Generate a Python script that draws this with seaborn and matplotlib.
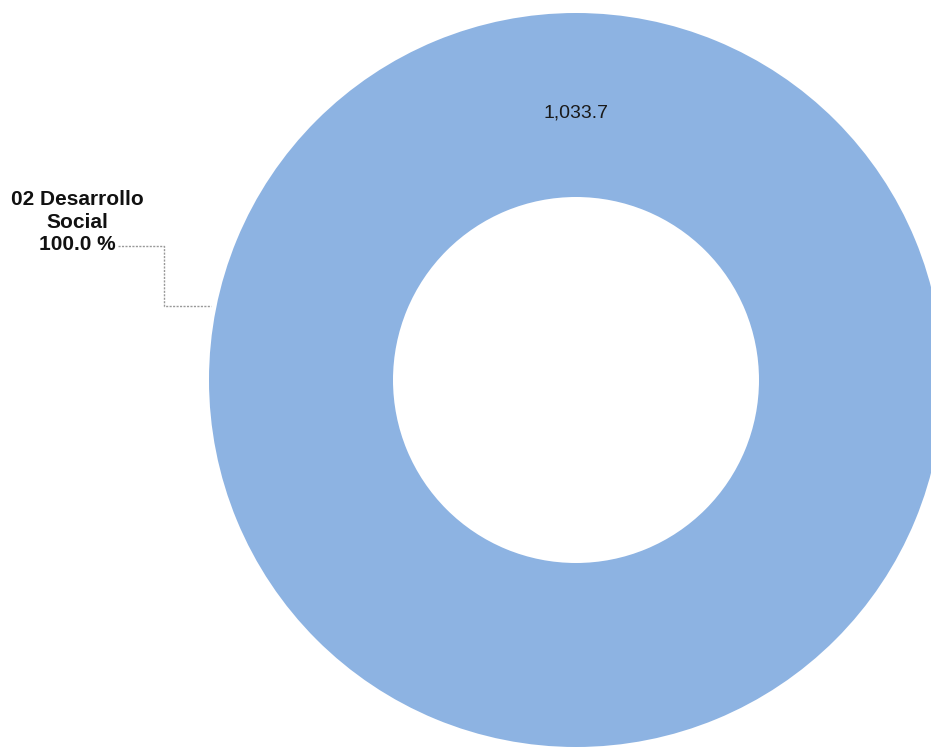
import matplotlib
matplotlib.use("Agg")
import matplotlib.pyplot as plt
import seaborn as sns

categories = ["02 Desarrollo Social"]
values = [1033.7]
shares = [100.0]

sns.set_theme(style="white")
plt.rcParams['font.family'] = ['Liberation Sans', 'DejaVu Sans']

W, H = 931, 747
fig = plt.figure(figsize=(W / 100, H / 100), dpi=100)
ax = fig.add_axes([0, 0, 1, 1])

cx, cy, r_out, r_in = 576, 380, 367, 183
color = "#8DB3E2"
ax.pie(values, colors=[color], startangle=90, counterclock=False,
       center=(cx, cy), radius=r_out, frame=True,
       wedgeprops=dict(width=r_out - r_in, edgecolor='none', linewidth=0))
ax.set_xlim(0, W)
ax.set_ylim(H, 0)
ax.set_aspect('equal')
ax.axis('off')

# value label
ax.text(cx, 113, f"{values[0]:,.1f}", ha='center', va='center',
        fontsize=14, color='#1a1a1a')

# category label
label = categories[0].replace(" Social", "\nSocial") + "\n" + f"{shares[0]:.1f} %"
ax.text(77, 222, label, ha='center', va='center', fontsize=15,
        fontweight='bold', color='#111111', linespacing=1.25)

# connector line
ax.plot([118, 164, 164, 211], [246, 246, 306, 306], color='#999999',
        lw=1, linestyle=(0, (1.5, 1)))

fig.savefig("out.png", dpi=100, facecolor='white')
